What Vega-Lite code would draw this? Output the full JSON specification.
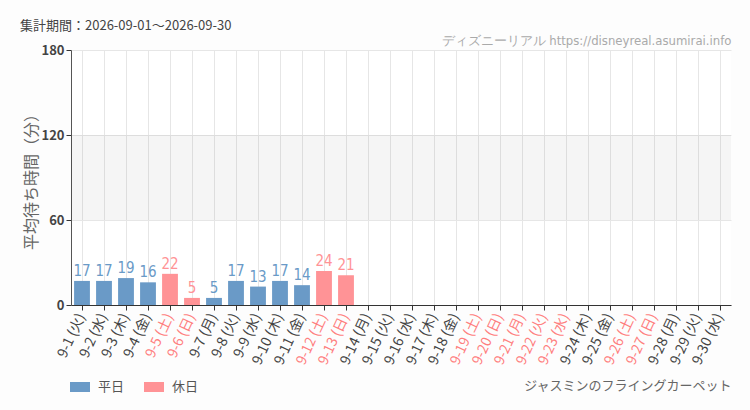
{
  "$schema": "https://vega.github.io/schema/vega-lite/v6.json",
  "autosize": {"type": "none"},
  "width": 660,
  "height": 255,
  "padding": {"left": 71, "top": 50, "right": 19, "bottom": 105},
  "background": "#fdfdfd",
  "title": {
    "text": "集計期間：2026-09-01～2026-09-30",
    "anchor": "start",
    "frame": "group",
    "dx": -51,
    "offset": 1,
    "font": "Noto Sans CJK JP",
    "fontSize": 13,
    "fontWeight": "normal",
    "color": "#444444"
  },
  "config": {
    "view": {"stroke": null, "fill": "#ffffff"},
    "font": "Noto Sans CJK JP"
  },
  "datasets": {
    "waits": [
      {"date": "9-1 (火)", "wait": 17, "type": "平日"},
      {"date": "9-2 (水)", "wait": 17, "type": "平日"},
      {"date": "9-3 (木)", "wait": 19, "type": "平日"},
      {"date": "9-4 (金)", "wait": 16, "type": "平日"},
      {"date": "9-5 (土)", "wait": 22, "type": "休日"},
      {"date": "9-6 (日)", "wait": 5, "type": "休日"},
      {"date": "9-7 (月)", "wait": 5, "type": "平日"},
      {"date": "9-8 (火)", "wait": 17, "type": "平日"},
      {"date": "9-9 (水)", "wait": 13, "type": "平日"},
      {"date": "9-10 (木)", "wait": 17, "type": "平日"},
      {"date": "9-11 (金)", "wait": 14, "type": "平日"},
      {"date": "9-12 (土)", "wait": 24, "type": "休日"},
      {"date": "9-13 (日)", "wait": 21, "type": "休日"},
      {"date": "9-14 (月)", "wait": null, "type": "平日"},
      {"date": "9-15 (火)", "wait": null, "type": "平日"},
      {"date": "9-16 (水)", "wait": null, "type": "平日"},
      {"date": "9-17 (木)", "wait": null, "type": "平日"},
      {"date": "9-18 (金)", "wait": null, "type": "平日"},
      {"date": "9-19 (土)", "wait": null, "type": "休日"},
      {"date": "9-20 (日)", "wait": null, "type": "休日"},
      {"date": "9-21 (月)", "wait": null, "type": "休日"},
      {"date": "9-22 (火)", "wait": null, "type": "休日"},
      {"date": "9-23 (水)", "wait": null, "type": "休日"},
      {"date": "9-24 (木)", "wait": null, "type": "平日"},
      {"date": "9-25 (金)", "wait": null, "type": "平日"},
      {"date": "9-26 (土)", "wait": null, "type": "休日"},
      {"date": "9-27 (日)", "wait": null, "type": "休日"},
      {"date": "9-28 (月)", "wait": null, "type": "平日"},
      {"date": "9-29 (火)", "wait": null, "type": "平日"},
      {"date": "9-30 (水)", "wait": null, "type": "平日"}
    ],
    "band": [{"lo": 60, "hi": 120}]
  },
  "resolve": {"axis": {"x": "independent"}},
  "layer": [
    {
      "data": {"name": "band"},
      "mark": {"type": "rect", "color": "#000000", "opacity": 0.04},
      "encoding": {
        "y": {"field": "lo", "type": "quantitative", "scale": {"domain": [0, 180]}},
        "y2": {"field": "hi"}
      }
    },
    {
      "data": {"name": "waits"},
      "mark": {"type": "bar"},
      "encoding": {
        "x": {
          "field": "date",
          "type": "nominal",
          "sort": null,
          "scale": {
            "domain": ["9-1 (火)","9-2 (水)","9-3 (木)","9-4 (金)","9-5 (土)","9-6 (日)","9-7 (月)","9-8 (火)","9-9 (水)","9-10 (木)","9-11 (金)","9-12 (土)","9-13 (日)","9-14 (月)","9-15 (火)","9-16 (水)","9-17 (木)","9-18 (金)","9-19 (土)","9-20 (日)","9-21 (月)","9-22 (火)","9-23 (水)","9-24 (木)","9-25 (金)","9-26 (土)","9-27 (日)","9-28 (月)","9-29 (火)","9-30 (水)"],
            "paddingInner": 0.28,
            "paddingOuter": 0.14
          },
          "axis": {
            "orient": "bottom",
            "title": "ジャスミンのフライングカーペット",
            "titleAnchor": "end",
            "titleAlign": "right",
            "titleFont": "Noto Sans CJK JP",
            "titleFontSize": 13,
            "titleFontWeight": "normal",
            "titleColor": "#666666",
            "titlePadding": 13,
            "labelAngle": -65,
            "labelAlign": "right",
            "labelBaseline": "middle",
            "labelFont": "Noto Sans CJK JP",
            "labelFontSize": 14,
            "labelPadding": 4,
            "labelColor": {
              "condition": {
                "test": "indexof(['9-5 (土)','9-6 (日)','9-12 (土)','9-13 (日)','9-19 (土)','9-20 (日)','9-21 (月)','9-22 (火)','9-23 (水)','9-26 (土)','9-27 (日)'], datum.value) >= 0",
                "value": "#ff7f7f"
              },
              "value": "#444444"
            },
            "domainColor": "#333333",
            "tickColor": "#333333",
            "tickSize": 5,
            "grid": true,
            "gridColor": "#e6e6e6"
          }
        },
        "y": {
          "field": "wait",
          "type": "quantitative",
          "scale": {"domain": [0, 180]},
          "axis": {
            "values": [0, 60, 120, 180],
            "title": "平均待ち時間（分）",
            "titleFont": "Noto Sans CJK JP",
            "titleFontSize": 16,
            "titleFontWeight": "normal",
            "titleColor": "#666666",
            "titlePadding": 1,
            "labelFont": "Noto Sans CJK JP",
            "labelFontSize": 13,
            "labelFontWeight": "bold",
            "labelColor": "#444444",
            "domainColor": "#555555",
            "tickColor": "#333333",
            "tickSize": 5,
            "grid": true,
            "gridColor": "#e6e6e6"
          }
        },
        "color": {
          "field": "type",
          "type": "nominal",
          "scale": {"domain": ["平日", "休日"], "range": ["#6a9ac7", "#ff9396"]},
          "legend": {
            "title": null,
            "orient": "none",
            "direction": "horizontal",
            "legendX": -2,
            "legendY": 326,
            "symbolType": "M-1,-0.5H1V0.5H-1Z",
            "symbolSize": 400,
            "symbolOpacity": 1,
            "labelFont": "Noto Sans CJK JP",
            "labelFontSize": 13,
            "labelColor": "#555555",
            "labelOffset": 7,
            "columnPadding": 18
          }
        }
      }
    },
    {
      "data": {"name": "waits"},
      "mark": {"type": "text", "baseline": "bottom", "dy": -2, "font": "Liberation Sans Narrow, DejaVu Sans Condensed, sans-serif", "fontSize": 15, "fontWeight": 500},
      "encoding": {
        "x": {
          "field": "date",
          "type": "nominal",
          "sort": null,
          "axis": {
            "orient": "top",
            "title": "ディズニーリアル https://disneyreal.asumirai.info",
            "titleAnchor": "end",
            "titleAlign": "right",
            "titleFont": "Liberation Sans Narrow, DejaVu Sans Condensed, sans-serif",
            "titleFontSize": 13,
            "titleFontWeight": "normal",
            "titleColor": "#aaaaaa",
            "titlePadding": 3,
            "labels": false,
            "ticks": false,
            "domain": false,
            "grid": false
          }
        },
        "y": {"field": "wait", "type": "quantitative"},
        "text": {"field": "wait", "type": "quantitative"},
        "color": {
          "field": "type",
          "type": "nominal",
          "scale": {"domain": ["平日", "休日"], "range": ["#4a7fb5", "#ff6b6b"]},
          "legend": null
        }
      }
    }
  ]
}
